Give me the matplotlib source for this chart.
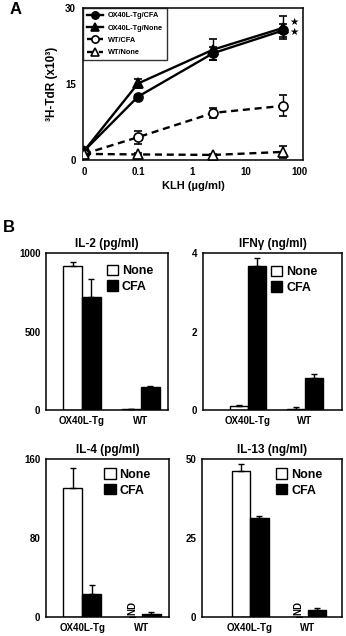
import numpy as np
import matplotlib
matplotlib.use("Agg")
import matplotlib.pyplot as plt
from matplotlib.patches import Patch

plt.rcParams['font.family'] = ['Liberation Sans', 'DejaVu Sans']
plt.rcParams['font.weight'] = 'bold'

# ---------------- Panel A data ----------------
klh_dose = [0, 0.1, 2.5, 50]
klh_ticks = [0, 0.1, 1, 10, 100]
klh_ticklabels = ['0', '0.1', '1', '10', '100']

tg_cfa = [1.8, 12.5, 21.1, 25.6]
tg_cfa_err = [0.3, 0.4, 1.3, 1.3]
tg_none = [1.8, 15.1, 21.8, 26.1]
tg_none_err = [0.3, 0.8, 2.0, 2.3]
wt_cfa = [1.2, 4.5, 9.3, 10.7]
wt_cfa_err = [0.3, 1.3, 1.0, 2.1]
wt_none = [1.2, 1.1, 1.0, 1.6]
wt_none_err = [0.2, 0.2, 0.2, 1.2]
series_labels = ['OX40L-Tg/CFA', 'OX40L-Tg/None', 'WT/CFA', 'WT/None']

# ---------------- Panel B data ----------------
groups = ['OX40L-Tg', 'WT']
legend_labels = ['None', 'CFA']
il2_none = [920, 5];      il2_none_err = [25, 0]
il2_cfa = [722, 145];     il2_cfa_err = [110, 10]
ifn_none = [0.10, 0.03];  ifn_none_err = [0.04, 0.04]
ifn_cfa = [3.67, 0.81];   ifn_cfa_err = [0.19, 0.10]
il4_none = [131, np.nan]; il4_none_err = [20, 0]
il4_cfa = [23, 3];        il4_cfa_err = [9, 2]
il13_none = [46.3, np.nan]; il13_none_err = [2.0, 0]
il13_cfa = [31.4, 2.2];     il13_cfa_err = [0.6, 0.5]

W, H = 346, 636
fig = plt.figure(figsize=(W / 100, H / 100), dpi=100)

def box(x0, y0, x1, y1):
    return [x0 / W, 1 - y1 / H, (x1 - x0) / W, (y1 - y0) / H]

# ---------------- Panel A ----------------
axA = fig.add_axes(box(83, 8, 303, 160))
axA.set_xscale('symlog', linthresh=0.1, linscale=0.9)
series = [
    (tg_cfa, tg_cfa_err, 'o', 'black', '-'),
    (tg_none, tg_none_err, '^', 'black', '-'),
    (wt_cfa, wt_cfa_err, 'o', 'white', (0, (3, 2))),
    (wt_none, wt_none_err, '^', 'white', (0, (3, 2))),
]
handles = []
for vals, err, mk, fc, ls in series:
    c = axA.errorbar(klh_dose, vals, yerr=err, fmt=mk, color='black',
                     mfc=fc, mec='black', ms=6.5, mew=1.2, ls=ls, lw=1.7,
                     capsize=3, elinewidth=1.0, capthick=1.0, zorder=3)
    handles.append(c[0])
axA.set_xlim(-0.002, 115)
axA.set_ylim(0, 30)
axA.set_xticks(klh_ticks)
axA.set_xticklabels(klh_ticklabels)
axA.xaxis.set_minor_locator(matplotlib.ticker.NullLocator())
axA.set_yticks([0, 15, 30])
axA.tick_params(length=0, labelsize=7, pad=5)
axA.set_xlabel('KLH (µg/ml)', fontsize=8, fontweight='bold', labelpad=3)
axA.set_ylabel('³H-TdR (x10³)', fontsize=8.5, fontweight='bold', labelpad=5)
for s in axA.spines.values():
    s.set_linewidth(1.1)
leg = axA.legend(handles, series_labels, loc='upper left', fontsize=5.3,
                 frameon=True, fancybox=False, edgecolor='black',
                 borderaxespad=0, handlelength=2.2, labelspacing=0.7,
                 handletextpad=0.6, borderpad=0.55, markerscale=0.8)
leg.get_frame().set_linewidth(1.0)
for y in (27.3, 25.3):
    axA.text(78, y, '★', fontsize=7.5, family='DejaVu Sans',
             ha='center', va='center')
fig.text(10 / W, 1 - 10 / H, 'A', fontsize=12, fontweight='bold',
         ha='left', va='center')
fig.text(3 / W, 1 - 228 / H, 'B', fontsize=12, fontweight='bold',
         ha='left', va='center')

# ---------------- Panel B ----------------
panels = [
    ('IL-2 (pg/ml)', box(46, 253, 168, 410), il2_none, il2_none_err, il2_cfa, il2_cfa_err,
     [0, 500, 1000], (-0.61, 1.46), (0.50, 0.925), False),
    ('IFNγ (ng/ml)', box(203, 253, 342, 410), ifn_none, ifn_none_err, ifn_cfa, ifn_cfa_err,
     [0, 2, 4], (-0.79, 1.65), (0.49, 0.92), False),
    ('IL-4 (pg/ml)', box(46, 459, 169, 617), il4_none, il4_none_err, il4_cfa, il4_cfa_err,
     [0, 80, 160], (-0.61, 1.46), (0.475, 0.94), True),
    ('IL-13 (ng/ml)', box(202, 459, 342, 617), il13_none, il13_none_err, il13_cfa, il13_cfa_err,
     [0, 25, 50], (-0.83, 1.59), (0.53, 0.94), True),
]
bw = 0.32
x = np.arange(len(groups))
for title, rect, nv, ne, cv, ce, yt, xl, legpos, nd in panels:
    ax = fig.add_axes(rect)
    nv_plot = np.nan_to_num(np.array(nv, dtype=float))
    ax.bar(x - bw / 2, nv_plot, bw, color='white', edgecolor='black', lw=1.0,
           yerr=[np.zeros(len(ne)), ne], capsize=2.2,
           error_kw=dict(elinewidth=1.0, capthick=1.0, ecolor='black'))
    ax.bar(x + bw / 2, cv, bw, color='black', edgecolor='black', lw=1.0,
           yerr=[np.zeros(len(ce)), ce], capsize=2.2,
           error_kw=dict(elinewidth=1.0, capthick=1.0, ecolor='black'))
    ax.set_ylim(0, yt[-1])
    ax.set_xlim(*xl)
    ax.set_yticks(yt)
    ax.set_xticks(x)
    ax.set_xticklabels(groups)
    ax.tick_params(length=0, labelsize=7, pad=4)
    ax.set_title(title, fontsize=8.5, fontweight='bold', pad=4)
    for s in ax.spines.values():
        s.set_linewidth(1.1)
    if nd:
        for i, v in enumerate(nv):
            if np.isnan(v):
                ax.text(x[i] - bw / 2, yt[-1] * 0.015, 'ND', rotation=90,
                        fontsize=7, fontweight='bold', ha='center', va='bottom')
    hl = [Patch(facecolor='white', edgecolor='black', lw=1.0),
          Patch(facecolor='black', edgecolor='black', lw=1.0)]
    ax.legend(hl, legend_labels, loc='upper left', bbox_to_anchor=legpos,
              frameon=False, fontsize=9, handlelength=0.9, handleheight=0.9,
              handletextpad=0.3, labelspacing=0.25, borderpad=0, borderaxespad=0)

fig.savefig('out.png', dpi=100)
